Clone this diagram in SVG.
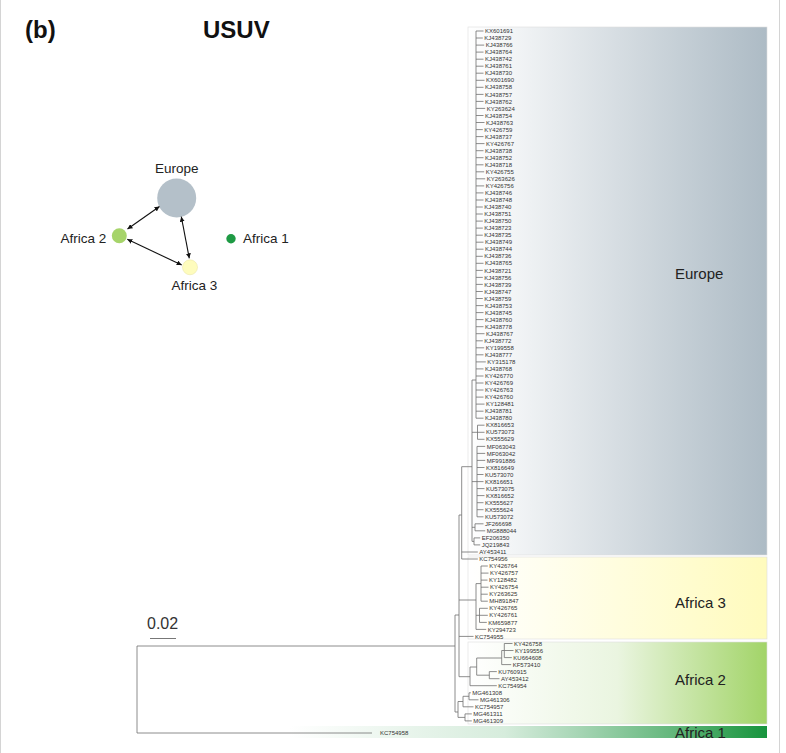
<svg xmlns="http://www.w3.org/2000/svg" width="786" height="753" viewBox="0 0 786 753">
<defs>
<style>
.lf{font-family:"Liberation Sans",Arial,sans-serif;font-size:6px;fill:#333}
.cl{font-family:"Liberation Sans",Arial,sans-serif;font-size:15px;fill:#222}
.nl{font-family:"Liberation Sans",Arial,sans-serif;font-size:13.5px;fill:#222}
.ttl{font-family:"Liberation Sans",Arial,sans-serif;font-size:24px;font-weight:bold;fill:#111}
.br{fill:none;stroke:#707070;stroke-width:0.8}
.box{stroke:#dedede;stroke-width:0.6}
.arr{stroke:#111;stroke-width:1.1;fill:none;marker-start:url(#ah);marker-end:url(#ah)}
</style>
<marker id="ah" viewBox="0 0 6 6" refX="6" refY="3" markerWidth="5" markerHeight="5" orient="auto-start-reverse" markerUnits="userSpaceOnUse"><path d="M0,0L6,3L0,6z" fill="#111"/></marker>
<linearGradient id="gEu" x1="0" y1="0" x2="1" y2="0"><stop offset="0" stop-color="#ffffff"/><stop offset="1" stop-color="#adbbc5"/></linearGradient>
<linearGradient id="gA3" x1="0" y1="0" x2="1" y2="0"><stop offset="0" stop-color="#ffffff"/><stop offset="1" stop-color="#fffbbd"/></linearGradient>
<linearGradient id="gA2" x1="0" y1="0" x2="1" y2="0"><stop offset="0" stop-color="#ffffff"/><stop offset="0.5" stop-color="#eaf5e0"/><stop offset="1" stop-color="#a2d468"/></linearGradient>
<linearGradient id="gA1" x1="0" y1="0" x2="1" y2="0"><stop offset="0" stop-color="#ffffff"/><stop offset="0.45" stop-color="#d6ecdc"/><stop offset="0.6" stop-color="#a8d6b6"/><stop offset="0.8" stop-color="#64b77c"/><stop offset="1" stop-color="#17943d"/></linearGradient>
</defs>
<rect x="0" y="0" width="786" height="753" fill="#ffffff"/>
<path d="M0.5 0V753M779.5 0V753" stroke="#d4d4d4" stroke-width="1"/>
<g id="title">
<text class="ttl" x="25" y="37.5">(b)</text>
<text class="ttl" x="203" y="37.5">USUV</text>
</g>
<g id="clade-boxes">
<g id="box-europe"><rect class="box" x="468" y="27" width="299" height="528" fill="url(#gEu)"/><text class="cl" x="675" y="279">Europe</text></g>
<g id="box-africa3"><rect class="box" x="468" y="557" width="299" height="82" fill="url(#gA3)"/><text class="cl" x="675" y="608">Africa 3</text></g>
<g id="box-africa2"><rect class="box" x="468" y="642" width="299" height="82" fill="url(#gA2)"/><text class="cl" x="675" y="684.5">Africa 2</text></g>
<g id="box-africa1"><rect x="290" y="726" width="477" height="12" fill="url(#gA1)"/><text class="cl" x="675" y="737.5">Africa 1</text></g>
</g>
<g id="network">
<g id="node-europe"><circle cx="176.7" cy="198" r="19.5" fill="#b4c0c9"/><text class="nl" x="155" y="173">Europe</text></g>
<g id="node-africa2"><circle cx="119.3" cy="235.7" r="7.5" fill="#a6d46a"/><text class="nl" x="60.5" y="243">Africa 2</text></g>
<g id="node-africa1"><circle cx="231" cy="238.7" r="4.7" fill="#1e9a44"/><text class="nl" x="243" y="243">Africa 1</text></g>
<g id="node-africa3"><circle cx="190" cy="267.3" r="7.5" fill="#fefcbd" stroke="#e6e3a0" stroke-width="0.5"/><text class="nl" x="171.5" y="290">Africa 3</text></g>
</g>
<g id="connectors">
<line class="arr" x1="127.5" y1="229" x2="159.5" y2="206.5"/>
<line class="arr" x1="181.3" y1="216.7" x2="189.3" y2="258.3"/>
<line class="arr" x1="127.3" y1="239.3" x2="181.7" y2="265"/>
</g>
<g id="scale-bar">
<text x="147" y="629" font-family="Liberation Sans, Arial, sans-serif" font-size="16" fill="#333">0.02</text>
<path d="M150 638.5H176" stroke="#777" stroke-width="1"/>
</g>
<g id="tree-branches">
<path class="br" d="M476 31V418.2
M476 31H483.5M476 38H482.8M476 45.1H484.2M476 52.1H483.5M476 59.2H483.5M476 66.2H483.5M476 73.2H483.5M476 80.3H484.5M476 87.3H483.5M476 94.4H483.5M476 101.4H483.5M476 108.4H485.2M476 115.5H483.5M476 122.5H484.5M476 129.6H482.8M476 136.6H483.5M476 143.6H484.5M476 150.7H483.5M476 157.7H483.5M476 164.8H483.5M476 171.8H484.2M476 178.8H485.2M476 185.9H484.2M476 192.9H483.5M476 200H483.5M476 207H482.8M476 214H482.8M476 221.1H482.8M476 228.1H482.8M476 235.2H482.8M476 242.2H483.5M476 249.2H483.5M476 256.3H482.8M476 263.3H483.5M476 270.4H482.8M476 277.4H482.8M476 284.4H482.8M476 291.5H482.8M476 298.5H482.8M476 305.6H483.5M476 312.6H483.5M476 319.6H483.5M476 326.7H483.5M476 333.7H484.5M476 340.8H482.8M476 347.8H484.2M476 354.8H483.5M476 361.9H485.8M476 368.9H483.5M476 376H483.5M476 383H483.5M476 390H483.5M476 397.1H483.5M476 404.1H484.5M476 411.2H483.5M476 418.2H483.5
M472 380H476
M477.5 425.2V439.3M477.5 425.2H484.5M477.5 432.3H484.5M477.5 439.3H484.5M472 432.3H477.5
M477 446.4V516.8M477 446.4H485.2M477 453.4H485.2M477 460.4H485.2M477 467.5H484.5M477 474.5H483.5M477 481.6H483.5M477 488.6H484.5M477 495.6H484.5M477 502.7H483.5M477 509.7H483.5M477 516.8H483.5M472 481.6H477
M475 523.8V530.8M475 523.8H483.5M475 530.8H485.2M472 527.3H475
M474 537.9V544.9M474 537.9H480.2M474 544.9H480.2M472 541.4H474
M472 380V541.4
M461.7 466.7V559M461.7 466.7H472M461.7 552H477.8M461.7 559H477.8
M459 515H461.7M459 515V676.7
M481 566V601.2M481 566H487.8M481 573.1H488.5M481 580.1H487.5M481 587.2H488.5M481 594.2H487.8M481 601.2H487.8M476 583.6H481
M479.5 608.3V622.4M479.5 608.3H487.8M479.5 615.3H487.8M479.5 622.4H486.8M476 615.3H479.5
M476 583.6V629.4M476 629.4H486.2M459 600H476
M459 636.4H473.5
M470 667V685.7M459 676.7H470M470 685.7H496.8M476.7 658V675.2M470 667H476.7
M504.3 643.5V657.6M504.3 643.5H512.5M504.3 650.5H513.5M504.3 657.6H511.8M501.7 650.5H504.3M501.7 650.5V664.6M501.7 664.6H511.2M476.7 658H501.7
M489.3 671.6V678.7M489.3 671.6H496.8M489.3 678.7H499.5M476.7 675.2H489.3
M469 692.8V699.8M469 692.8H470.8M469 699.8H478.5M463 696.3V706.8M463 696.3H469M463 706.8H473.5M465 713.9V720.9M465 713.9H471.8M465 720.9H471.8M458 701.5V717.4M458 701.5H463M458 717.4H465
M455 615V712M455 712H458M455 615H459
M137 646V733M137 646H455M137 733H372"/>
</g>
<g id="leaf-labels" class="lf">
<text x="485" y="33.1">KX601691</text>
<text x="484.3" y="40.1">KJ438729</text>
<text x="485.7" y="47.2">KJ438766</text>
<text x="485" y="54.2">KJ438764</text>
<text x="485" y="61.3">KJ438742</text>
<text x="485" y="68.3">KJ438761</text>
<text x="485" y="75.3">KJ438730</text>
<text x="486" y="82.4">KX601690</text>
<text x="485" y="89.4">KJ438758</text>
<text x="485" y="96.5">KJ438757</text>
<text x="485" y="103.5">KJ438762</text>
<text x="486.7" y="110.5">KY263624</text>
<text x="485" y="117.6">KJ438754</text>
<text x="486" y="124.6">KJ438763</text>
<text x="484.3" y="131.7">KY426759</text>
<text x="485" y="138.7">KJ438737</text>
<text x="486" y="145.7">KY426767</text>
<text x="485" y="152.8">KJ438738</text>
<text x="485" y="159.8">KJ438752</text>
<text x="485" y="166.9">KJ438718</text>
<text x="485.7" y="173.9">KY426755</text>
<text x="486.7" y="180.9">KY263626</text>
<text x="485.7" y="188">KY426756</text>
<text x="485" y="195">KJ438746</text>
<text x="485" y="202.1">KJ438748</text>
<text x="484.3" y="209.1">KJ438740</text>
<text x="484.3" y="216.1">KJ438751</text>
<text x="484.3" y="223.2">KJ438750</text>
<text x="484.3" y="230.2">KJ438723</text>
<text x="484.3" y="237.3">KJ438735</text>
<text x="485" y="244.3">KJ438749</text>
<text x="485" y="251.3">KJ438744</text>
<text x="484.3" y="258.4">KJ438736</text>
<text x="485" y="265.4">KJ438765</text>
<text x="484.3" y="272.5">KJ438721</text>
<text x="484.3" y="279.5">KJ438756</text>
<text x="484.3" y="286.5">KJ438739</text>
<text x="484.3" y="293.6">KJ438747</text>
<text x="484.3" y="300.6">KJ438759</text>
<text x="485" y="307.7">KJ438753</text>
<text x="485" y="314.7">KJ438745</text>
<text x="485" y="321.7">KJ438760</text>
<text x="485" y="328.8">KJ438778</text>
<text x="486" y="335.8">KJ438767</text>
<text x="484.3" y="342.9">KJ438772</text>
<text x="485.7" y="349.9">KY199558</text>
<text x="485" y="356.9">KJ438777</text>
<text x="487.3" y="364">KY315178</text>
<text x="485" y="371">KJ438768</text>
<text x="485" y="378.1">KY426770</text>
<text x="485" y="385.1">KY426769</text>
<text x="485" y="392.1">KY426763</text>
<text x="485" y="399.2">KY426760</text>
<text x="486" y="406.2">KY128481</text>
<text x="485" y="413.3">KJ438781</text>
<text x="485" y="420.3">KJ438780</text>
<text x="486" y="427.3">KX816653</text>
<text x="486" y="434.4">KU573073</text>
<text x="486" y="441.4">KX555629</text>
<text x="486.7" y="448.5">MF063043</text>
<text x="486.7" y="455.5">MF063042</text>
<text x="486.7" y="462.5">MF991886</text>
<text x="486" y="469.6">KX816649</text>
<text x="485" y="476.6">KU573070</text>
<text x="485" y="483.7">KX816651</text>
<text x="486" y="490.7">KU573075</text>
<text x="486" y="497.7">KX816652</text>
<text x="485" y="504.8">KX555627</text>
<text x="485" y="511.8">KX555624</text>
<text x="485" y="518.9">KU573072</text>
<text x="485" y="525.9">JF266698</text>
<text x="486.7" y="532.9">MG888044</text>
<text x="481.7" y="540">EF206350</text>
<text x="481.7" y="547">JQ219843</text>
<text x="479.3" y="554.1">AY453411</text>
<text x="479.3" y="561.1">KC754956</text>
<text x="489.3" y="568.1">KY426764</text>
<text x="490" y="575.2">KY426757</text>
<text x="489" y="582.2">KY128482</text>
<text x="490" y="589.3">KY426754</text>
<text x="489.3" y="596.3">KY263625</text>
<text x="489.3" y="603.3">MH891847</text>
<text x="489.3" y="610.4">KY426765</text>
<text x="489.3" y="617.4">KY426761</text>
<text x="488.3" y="624.5">KM659877</text>
<text x="487.7" y="631.5">KY294723</text>
<text x="475" y="638.5">KC754955</text>
<text x="514" y="645.6">KY426758</text>
<text x="515" y="652.6">KY199556</text>
<text x="513.3" y="659.7">KU664608</text>
<text x="512.7" y="666.7">KF573410</text>
<text x="498.3" y="673.7">KU760915</text>
<text x="501" y="680.8">AY453412</text>
<text x="498.3" y="687.8">KC754954</text>
<text x="472.3" y="694.9">MG461308</text>
<text x="480" y="701.9">MG461306</text>
<text x="475" y="708.9">KC754957</text>
<text x="473.3" y="716">MG461311</text>
<text x="473.3" y="723">MG461309</text>
<text x="380" y="735">KC754958</text>
</g>
</svg>
